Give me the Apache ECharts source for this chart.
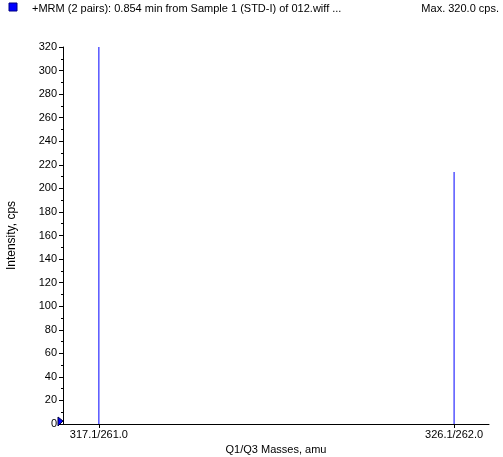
<!DOCTYPE html>
<html><head><meta charset="utf-8">
<script src="https://cdn.jsdelivr.net/npm/echarts@6/dist/echarts.min.js"></script>
<style>html,body{margin:0;padding:0;background:#fff}#c{width:503px;height:457px}</style>
</head><body><div id="c"></div>
<script>
var categories = ['317.1/261.0', '326.1/262.0'];
var positions = [1, 2];
var intensities = [320, 214];
var yTicks = [0,20,40,60,80,100,120,140,160,180,200,220,240,260,280,300,320];
var titleText = '+MRM (2 pairs): 0.854 min from Sample 1 (STD-I) of 012.wiff ...';
var maxText = 'Max. 320.0 cps.';

var font = 'Liberation Sans, Arial, sans-serif';
var chart = echarts.init(document.getElementById('c'), null, {renderer:'canvas'});
var data = positions.map(function(p,i){return [p, intensities[i]];});
chart.setOption({
  animation:false,
  grid:{left:63, right:14, top:47, bottom:33, containLabel:false, outerBoundsMode:'none'},
  xAxis:{
    type:'value', min:0.899, max:2.0983,
    name:'Q1/Q3 Masses, amu', nameLocation:'middle', nameGap:17,
    nameTextStyle:{color:'#000', fontSize:11, fontFamily:font},
    axisLine:{show:true, lineStyle:{color:'#000', width:1}},
    axisTick:{show:true, length:4, inside:false, customValues:positions, lineStyle:{color:'#000'}},
    axisLabel:{customValues:positions, color:'#000', fontSize:11, fontFamily:font, margin:5,
      formatter:function(v){var i=positions.indexOf(v);return i>=0?categories[i]:'';}},
    splitLine:{show:false}
  },
  yAxis:{
    type:'value', min:0, max:320, interval:20,
    name:'Intensity, cps', nameLocation:'middle', nameGap:45, nameRotate:90,
    nameTextStyle:{color:'#000', fontSize:12, fontFamily:font},
    axisLine:{show:true, lineStyle:{color:'#000', width:1}},
    axisTick:{show:true, length:4, lineStyle:{color:'#000'}},
    minorTick:{show:true, splitNumber:2, length:2, lineStyle:{color:'#000'}},
    axisLabel:{color:'#000', fontSize:11, fontFamily:font, margin:6,
      customValues:yTicks},
    splitLine:{show:false}
  },
  series:[{
    type:'bar', data:data, barWidth:1, itemStyle:{color:'#0000ff'}, silent:true
  }],
  graphic:[
    {type:'rect', shape:{x:9, y:3, width:8, height:8}, style:{fill:'#0000ff', stroke:'#000080', lineWidth:1}},
    {type:'text', left:32, top:3, style:{text:titleText, fill:'#000', font:'11px '+font}},
    {type:'text', right:4, top:3, style:{text:maxText, fill:'#000', font:'11px '+font}},
    {type:'polygon', shape:{points:[[58,417],[63,421],[58,426]]}, style:{fill:'#0000ff', stroke:'#000040', lineWidth:1}}
  ]
});
</script></body></html>
